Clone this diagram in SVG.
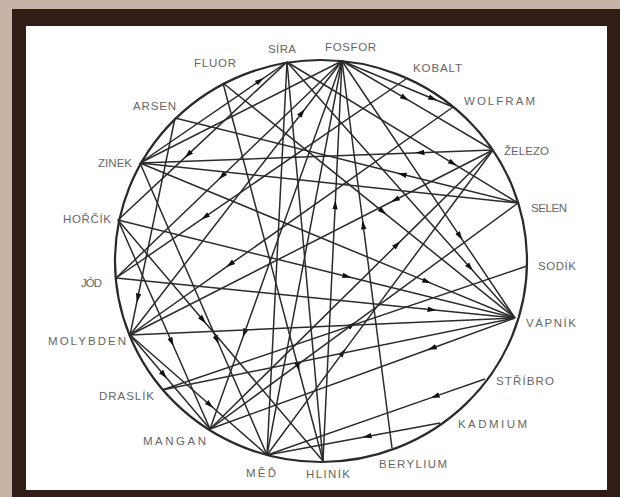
<svg xmlns="http://www.w3.org/2000/svg" width="620" height="497" viewBox="0 0 620 497">
<defs>
<style>
.lbl{font-family:"Liberation Sans",Arial,sans-serif;font-size:11.5px;fill:#666666}
.c{stroke:#2b2b2b;stroke-width:1.5;fill:none;marker-mid:url(#ar)}
.p{stroke:#2b2b2b;stroke-width:1.5;fill:none}
</style>
<marker id="ar" viewBox="0 0 10 10" refX="5" refY="5" markerWidth="9" markerHeight="9" orient="auto" markerUnits="userSpaceOnUse"><path d="M0,2 L10,5 L0,8 z" fill="#111"/></marker>
</defs>
<rect x="0" y="0" width="620" height="497" fill="#c8b4a6"/>
<rect x="12" y="9" width="608" height="488" fill="#321d16"/>
<rect x="26" y="26" width="581" height="464" fill="#ffffff"/>
<ellipse cx="321" cy="261" rx="206" ry="201" fill="none" stroke="#2a2a2a" stroke-width="2.2"/>
<g id="connectors">
<path class="c" d="M493,150 L420,152.7 L140,163"/>
<path class="c" d="M323,461 L335.2,205 L342,61"/>
<path class="c" d="M392,448 L363.2,225 L342,61"/>
<path class="c" d="M342,61 L460,236.3 L515,318"/>
<path class="c" d="M287,62 L470,267.5 L515,318"/>
<path class="c" d="M493,150 L395,200 L130,335"/>
<path class="c" d="M518,203 L402,174.3 L175,118"/>
<path class="c" d="M287,62 L453,163.3 L518,203"/>
<path class="c" d="M406,79 L205,216.9 L116,278"/>
<path class="c" d="M116,278 L432,309.7 L515,318"/>
<path class="c" d="M515,318 L432,348.2 L210,429"/>
<path class="c" d="M440,423 L367,436.5 L267,455"/>
<path class="c" d="M485,379 L435,396.4 L267,455"/>
<path class="c" d="M267,455 L343,352.4 L493,150"/>
<path class="c" d="M210,429 L352,324.8 L518,203"/>
<path class="c" d="M223,83 L298.1,367 L323,461"/>
<path class="c" d="M140,163 L217,340 L267,455"/>
<path class="c" d="M342,61 L244.4,333 L210,429"/>
<path class="c" d="M118,220 L171.7,342 L210,429"/>
<path class="c" d="M118,220 L203,320 L323,461"/>
<path class="p" d="M527,266 L162,390"/>
<path class="c" d="M223,83 L383,211.8 L515,318"/>
<path class="c" d="M140,163 L427,281.6 L515,318"/>
<path class="c" d="M118,220 L347,276.5 L515,318"/>
<path class="p" d="M130,335 L515,318"/>
<path class="c" d="M140,163 L260,80.6 L287,62"/>
<path class="p" d="M287,62 L267,455"/>
<path class="c" d="M175,118 L137.7,298 L130,335"/>
<path class="c" d="M130,335 L302,112.7 L342,61"/>
<path class="c" d="M342,61 L405,98.1 L493,150"/>
<path class="c" d="M342,61 L433,98.7 L453,107"/>
<path class="c" d="M342,61 L222,176.2 L116,278"/>
<path class="c" d="M287,62 L188,154.6 L118,220"/>
<path class="c" d="M453,107 L230,264.4 L130,335"/>
<path class="p" d="M162,390 L515,318"/>
<path class="p" d="M342,61 L267,455"/>
<path class="p" d="M342,61 L140,163"/>
<path class="p" d="M287,62 L323,461"/>
<path class="c" d="M130,335 L164,375 L210,429"/>
<path class="c" d="M130,335 L210,405 L267,455"/>
<path class="p" d="M140,163 L518,203"/>
<path class="c" d="M210,429 L397,244.6 L493,150"/>
</g>
<g id="n-sira"><text class="lbl" x="268" y="53" textLength="28">SÍRA</text></g>
<g id="n-fosfor"><text class="lbl" x="325" y="51" textLength="51">FOSFOR</text></g>
<g id="n-kobalt"><text class="lbl" x="413" y="72" textLength="49">KOBALT</text></g>
<g id="n-wolfram"><text class="lbl" x="464" y="105" textLength="71">WOLFRAM</text></g>
<g id="n-zelezo"><text class="lbl" x="504" y="155" textLength="45">ŽELEZO</text></g>
<g id="n-selen"><text class="lbl" x="531" y="212" textLength="36">SELEN</text></g>
<g id="n-sodik"><text class="lbl" x="538" y="270" textLength="38">SODÍK</text></g>
<g id="n-vapnik"><text class="lbl" x="526" y="327" textLength="50">VÁPNÍK</text></g>
<g id="n-stribro"><text class="lbl" x="496" y="385" textLength="58">STŘÍBRO</text></g>
<g id="n-kadmium"><text class="lbl" x="458" y="428" textLength="69">KADMIUM</text></g>
<g id="n-berylium"><text class="lbl" x="379" y="468" textLength="68">BERYLIUM</text></g>
<g id="n-hlinik"><text class="lbl" x="306" y="478" textLength="44">HLINÍK</text></g>
<g id="n-med"><text class="lbl" x="246" y="477" textLength="30">MĚĎ</text></g>
<g id="n-mangan"><text class="lbl" x="143" y="445" textLength="63">MANGAN</text></g>
<g id="n-draslik"><text class="lbl" x="99" y="400" textLength="55">DRASLÍK</text></g>
<g id="n-molybden"><text class="lbl" x="48" y="345" textLength="78">MOLYBDEN</text></g>
<g id="n-jod"><text class="lbl" x="81" y="287" textLength="21">JÓD</text></g>
<g id="n-horcik"><text class="lbl" x="63" y="223" textLength="48">HOŘČÍK</text></g>
<g id="n-zinek"><text class="lbl" x="98" y="167" textLength="34">ZINEK</text></g>
<g id="n-arsen"><text class="lbl" x="133" y="110" textLength="43">ARSEN</text></g>
<g id="n-fluor"><text class="lbl" x="194" y="67" textLength="42">FLUOR</text></g>
</svg>
